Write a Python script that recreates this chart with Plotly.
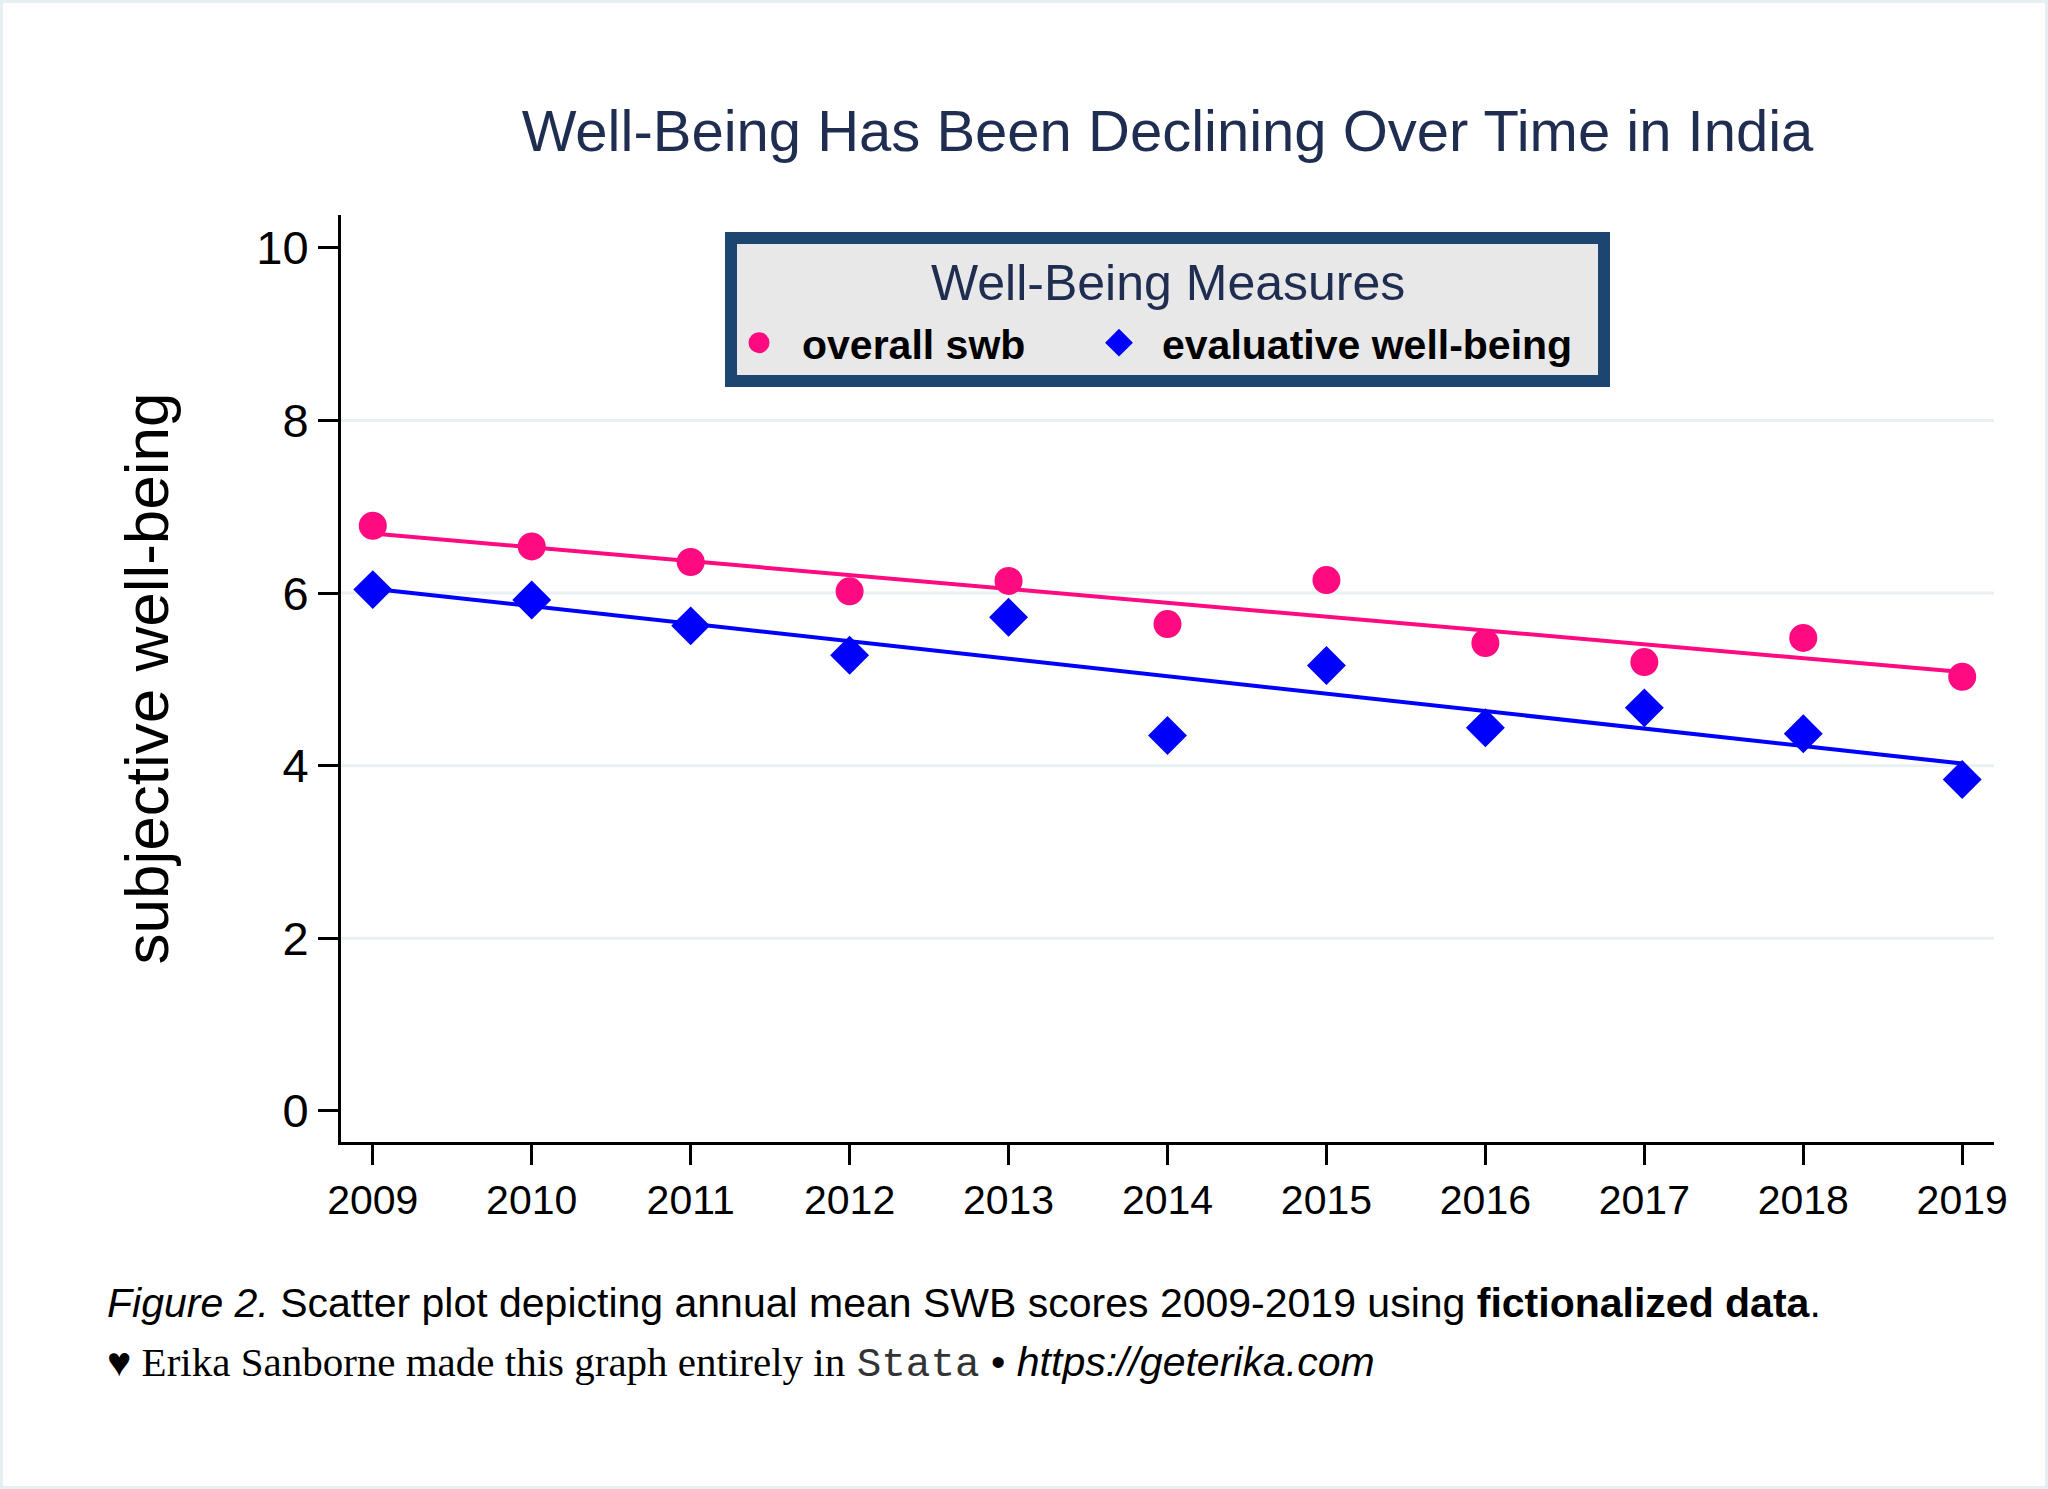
import numpy as np
import plotly.graph_objects as go

# ---------------- data ----------------
years = [2009, 2010, 2011, 2012, 2013, 2014, 2015, 2016, 2017, 2018, 2019]
overall_swb = [6.78, 6.54, 6.36, 6.02, 6.14, 5.64, 6.15, 5.42, 5.20, 5.48, 5.03]
evaluative_wb = [6.04, 5.92, 5.62, 5.28, 5.72, 4.35, 5.16, 4.44, 4.67, 4.37, 3.84]
y_ticks = [0, 2, 4, 6, 8, 10]
grid_y = [2, 4, 6, 8]
series_names = ["overall swb", "evaluative well-being"]
legend_title = "Well-Being Measures"

# ---------------- style ----------------
PINK = "#ff0a80"
BLUE = "#0000ff"
NAVY = "#1f2d50"
FRAME = "#1c4670"
SANS = "Liberation Sans, Arial, sans-serif"

W, H = 2048, 1489
L, R, T, B = 341, 54, 215, 347
plot_w = W - L - R
plot_h = H - T - B


def px_x(px):
    return (px - L) / plot_w


def px_y(py):
    return (H - B - py) / plot_h


x = np.array(years, dtype=float)
fit_o = np.polyval(np.polyfit(x, overall_swb, 1), x)
fit_e = np.polyval(np.polyfit(x, evaluative_wb, 1), x)

fig = go.Figure()
fig.add_trace(go.Scatter(x=years, y=overall_swb, mode="markers", name=series_names[0],
                         legend="legend",
                         marker=dict(symbol="circle", size=23, color=PINK,
                                     line=dict(color=PINK, width=5))))
fig.add_trace(go.Scatter(x=years, y=evaluative_wb, mode="markers", name=series_names[1],
                         legend="legend2",
                         marker=dict(symbol="diamond", size=24.5, color=BLUE,
                                     line=dict(color=BLUE, width=5))))
fig.add_trace(go.Scatter(x=years, y=fit_o, mode="lines", showlegend=False,
                         line=dict(color=PINK, width=4)))
fig.add_trace(go.Scatter(x=years, y=fit_e, mode="lines", showlegend=False,
                         line=dict(color=BLUE, width=4)))

shapes = []
for g in grid_y:
    shapes.append(dict(type="line", xref="paper", x0=0, x1=1, yref="y", y0=g, y1=g,
                       line=dict(color="#e8f0f1", width=3), layer="below"))
# thin outer frame of the image
shapes.append(dict(type="rect", xref="paper", yref="paper",
                   x0=px_x(1.5), x1=px_x(W - 1.5), y0=px_y(H - 1.5), y1=px_y(1.5),
                   line=dict(color="#e6eff1", width=3), fillcolor="rgba(0,0,0,0)", layer="below"))
# legend frame
shapes.append(dict(type="rect", xref="paper", yref="paper",
                   x0=px_x(731), x1=px_x(1604), y0=px_y(381), y1=px_y(238),
                   line=dict(color=FRAME, width=12), fillcolor="#e8e8e8", layer="above"))

annotations = [
    dict(xref="paper", yref="paper", x=0.5, y=px_y(283), xanchor="center", yanchor="middle",
         showarrow=False, text=legend_title,
         font=dict(family=SANS, size=50, color=NAVY)),
    dict(xref="paper", yref="paper", x=px_x(105), y=px_y(1303), xanchor="left", yanchor="middle",
         showarrow=False, align="left",
         text="<i>Figure 2.</i> Scatter plot depicting annual mean SWB scores 2009-2019 using <b>fictionalized data</b>.",
         font=dict(family=SANS, size=41, color="black")),
    dict(xref="paper", yref="paper", x=px_x(105), y=px_y(1363), xanchor="left", yanchor="middle",
         showarrow=False, align="left",
         text=('<span style="font-family:Liberation Serif, Times New Roman, serif">♥ Erika Sanborne made this graph entirely in</span> '
               '<span style="font-family:Liberation Mono, Courier New, monospace;color:#333">Stata</span>'
               ' • <i>https://geterika.com</i>'),
         font=dict(family=SANS, size=41, color="black")),
]

legend_common = dict(orientation="h", yanchor="middle", y=px_y(343), xanchor="left",
                     bgcolor="rgba(0,0,0,0)", borderwidth=0,
                     font=dict(family=SANS, size=41, color="black", weight="bold"),
                     itemsizing="trace", itemwidth=76)

fig.update_layout(
    width=W, height=H, autosize=False,
    margin=dict(l=L, r=R, t=T, b=B, pad=0),
    paper_bgcolor="white", plot_bgcolor="white",
    font=dict(family=SANS, color="black"),
    title=dict(text="Well-Being Has Been Declining Over Time in India",
               font=dict(family=SANS, size=58, color=NAVY),
               xref="paper", x=0.5, xanchor="center",
               yref="container", y=1 - 131 / H, yanchor="middle"),
    xaxis=dict(range=[2008.8, 2019.2], tickmode="array", tickvals=years,
               ticktext=[str(v) for v in years], showgrid=False, zeroline=False,
               showline=True, linecolor="black", linewidth=3,
               ticks="outside", ticklen=20, tickwidth=3, tickcolor="black",
               tickfont=dict(family=SANS, size=41, color="black")),
    yaxis=dict(range=[-0.36, 10.38], tickmode="array", tickvals=y_ticks,
               showgrid=False, zeroline=False,
               showline=True, linecolor="black", linewidth=3,
               ticks="outside", ticklen=20, tickwidth=3, tickcolor="black",
               tickfont=dict(family=SANS, size=47, color="black"),
               title=dict(text="subjective well-being", standoff=68,
                          font=dict(family=SANS, size=62, color="black"))),
    legend=dict(legend_common, x=px_x(716)),
    legend2=dict(legend_common, x=px_x(1076)),
    shapes=shapes,
    annotations=annotations,
    hovermode=False,
    showlegend=True,
)

fig.write_html("out.html", config={"displayModeBar": False},
               post_script="document.body.style.margin='0';")
